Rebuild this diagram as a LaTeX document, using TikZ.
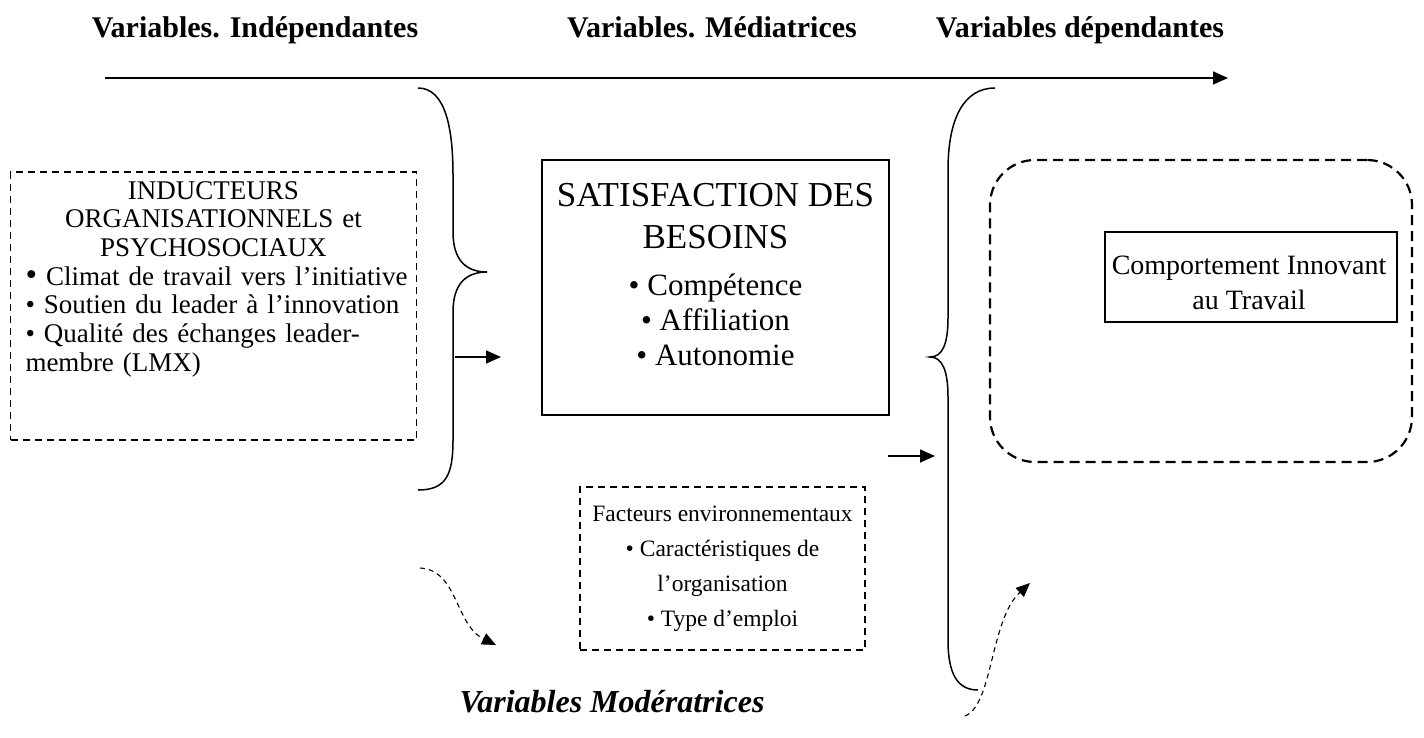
\documentclass[tikz,border=0pt]{standalone}
\usepackage{fontspec}
\setmainfont{Liberation Serif}
\usetikzlibrary{arrows.meta}

\begin{document}
\begin{tikzpicture}[x=1pt,y=-1pt,
    titre/.style={font=\fontsize{30}{34}\selectfont\bfseries,anchor=base},
    boite/.style={draw=black,line width=1.5pt,align=center},
    tirets/.style={draw=black,line width=1.4pt,dash pattern=on 7pt off 5pt},
    fleche/.style={-{Triangle[length=15pt,width=13pt]},line width=1.6pt},
    pointille/.style={-{Triangle[length=14pt,width=12pt]},line width=1.1pt,dash pattern=on 5pt off 4pt},
    accolade/.style={line width=1.5pt}]
  \useasboundingbox (0,0) rectangle (1424,738);

  % titres
  \node[titre] (ti) at (255,38) {Variables. Indépendantes};
  \node[titre] (tm) at (712,38) {Variables. Médiatrices};
  \node[titre] (td) at (1080,38) {Variables dépendantes};
  \coordinate (ax1) at (105,78);
  \coordinate (ax2) at (1228,78);
  \draw[fleche] (ax1) -- (ax2);

  % variables independantes
  \node[tirets,minimum width=406pt,minimum height=268pt] (induc) at (213.5,306) {};
  \node[anchor=north,inner sep=0pt,text width=376pt,align=left,
        font=\fontsize{27}{28.7}\selectfont] (inductxt) at (213.5,181)
    {\makebox[376pt]{INDUCTEURS}\\ \makebox[376pt]{ORGANISATIONNELS et}\\
     \makebox[376pt]{PSYCHOSOCIAUX}\\
     \mbox{{\fontsize{33}{28.7}\selectfont\textbullet}{} Climat de travail vers l’initiative}\\
     \mbox{\textbullet{} Soutien du leader à l’innovation}\\
     \mbox{\textbullet{} Qualité des échanges leader-}\\
     membre (LMX)};
  \draw[accolade] (418,88) .. controls (446,88) and (453,130) .. (453,175)
    -- (453,232) .. controls (453,260) and (466,272) .. (487,272)
    .. controls (466,272) and (453,284) .. (453,312)
    -- (453,440) .. controls (453,475) and (446,490) .. (418,490);
  \coordinate (f1a) at (455,357);
  \coordinate (f1b) at (501,357);
  \draw[fleche] (f1a) -- (f1b);

  % variables mediatrices
  \node[boite,minimum width=347pt,minimum height=255pt] (besoins) at (715.5,287.5) {};
  \node[anchor=north,inner sep=0pt,align=center,
        font=\fontsize{35}{42}\selectfont] (sattitre) at (715.5,183)
    {SATISFACTION DES\\ BESOINS};
  \node[anchor=north,inner sep=0pt,align=center,
        font=\fontsize{31}{35}\selectfont] (satliste) at (715.5,274)
    {\textbullet{} Compétence\\ \textbullet{} Affiliation\\ \textbullet{} Autonomie};
  \coordinate (f2a) at (888,456);
  \coordinate (f2b) at (935,456);
  \draw[fleche] (f2a) -- (f2b);

  % moderatrices
  \node[tirets,align=center,minimum width=285pt,minimum height=163pt,
        font=\fontsize{23.5}{35}\selectfont] (facteurs) at (722.5,568.5)
    {Facteurs environnementaux\\ \textbullet{} Caractéristiques de\\
     l’organisation\\ \textbullet{} Type d’emploi};
  \coordinate (p1a) at (420,568);
  \coordinate (p1b) at (496,645);
  \draw[pointille] (p1a) .. controls (458,570) and (455,625) .. (p1b);
  \coordinate (p2a) at (965,716);
  \coordinate (p2b) at (1030,583);
  \draw[pointille] (p2a) .. controls (993,705) and (990,620) .. (p2b);
  \node[font=\fontsize{32}{36}\selectfont\bfseries\itshape] (moder) at (612,702)
    {Variables Modératrices};

  % variables dependantes
  \draw[accolade] (995,88) .. controls (963,88) and (948,120) .. (948,170)
    -- (948,318) .. controls (948,345) and (942,357) .. (930,357)
    .. controls (942,357) and (948,370) .. (948,397)
    -- (948,640) .. controls (948,675) and (958,690) .. (978,690);
  \node[draw=black,line width=2.2pt,dash pattern=on 10pt off 6pt,
        rounded corners=45pt,minimum width=422pt,minimum height=302pt] (cadre)
    at (1201,311) {};
  \node[boite,minimum width=292pt,minimum height=90pt] (cit) at (1251,277) {};
  \node[align=center,inner sep=0pt,font=\fontsize{28}{35}\selectfont] (cittxt)
    at (1249,283) {Comportement Innovant\\ au Travail};
\end{tikzpicture}
\end{document}
